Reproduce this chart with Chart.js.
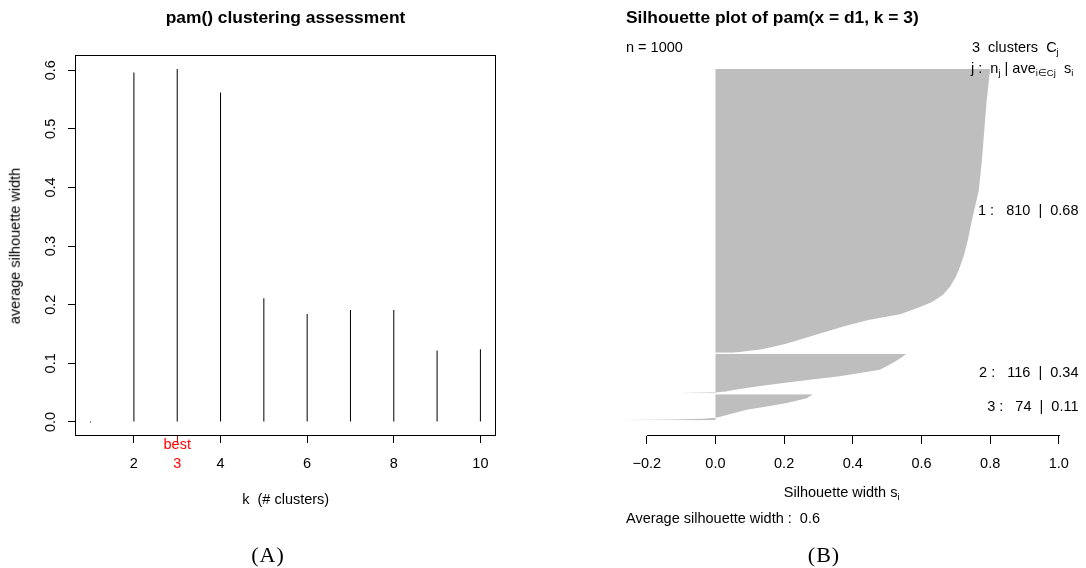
<!DOCTYPE html>
<html><head><meta charset="utf-8">
<script src="https://cdn.jsdelivr.net/npm/chart.js@4/dist/chart.umd.min.js"></script>
<style>
html,body{margin:0;padding:0;background:#fff;}
#wrap{position:relative;width:1086px;height:568px;overflow:hidden;font-family:"Liberation Sans",Arial,sans-serif;color:#000;}
.box{position:absolute;top:0;width:543px;height:568px;}
.t{position:absolute;white-space:pre;line-height:1;font-size:14.5px;}
.c{transform:translate(-50%,-50%);}
.l{transform:translate(0,-50%);}
.bold{font-weight:bold;font-size:17.4px;}
.serif{font-family:"Liberation Serif","Times New Roman",serif;font-size:22px;letter-spacing:1px;}
.rot{transform:translate(-50%,-50%) rotate(-90deg);}
sub{font-size:9.5px;vertical-align:-3px;line-height:0;}
</style></head>
<body><div id="wrap">
<div class="box" style="left:0"><canvas id="cA"></canvas></div>
<div class="box" style="left:543px"><canvas id="cB"></canvas></div>

<div class="t c bold" style="left:285.5px;top:17.8px">pam() clustering assessment</div>
<div class="t c" style="left:285.7px;top:498.5px">k  (# clusters)</div>
<div class="t rot" style="left:15px;top:245.5px">average silhouette width</div>
<div class="t c serif" style="left:268px;top:554.5px">(A)</div>

<div class="t l bold" style="left:626px;top:17.8px">Silhouette plot of pam(x = d1, k = 3)</div>
<div class="t l" style="left:626px;top:47.2px">n = 1000</div>
<div class="t l" style="left:972px;top:47px">3  clusters  C<sub>j</sub></div>
<div class="t l" style="left:971px;top:67.5px">j :  n<sub>j</sub> | ave<sub>i∈Cj</sub>  s<sub>i</sub></div>
<div class="t c" style="left:841.7px;top:491.8px">Silhouette width s<sub>i</sub></div>
<div class="t l" id="avgTxt" style="left:626px;top:518px"></div>
<div class="t c serif" style="left:824px;top:554.5px">(B)</div>
</div>
<script>
// ---------- data: panel A ----------
const kValues = [1, 2, 3, 4, 5, 6, 7, 8, 9, 10];
const avgSilWidth = [0, 0.596, 0.602, 0.562, 0.211, 0.184, 0.191, 0.191, 0.122, 0.124];
const bestK = 3;
const xTicksA = [2, 3, 4, 6, 8, 10];
const yTicksA = [0, 0.1, 0.2, 0.3, 0.4, 0.5, 0.6];

// ---------- data: panel B (silhouette widths, sorted within cluster; position = observation row) ----------
const c1Pos = [0, 89, 174, 260, 346, 431, 488, 531, 565, 594, 622, 645, 665, 682, 700, 717, 734, 751, 768, 785, 800, 810];
const c1Sil = [0.80, 0.790, 0.783, 0.776, 0.767, 0.747, 0.735, 0.724, 0.712, 0.700, 0.683, 0.662, 0.631, 0.590, 0.538, 0.445, 0.378, 0.319, 0.261, 0.203, 0.136, 0.052];
const c2Pos = [813, 830, 844, 859, 868, 878, 887, 897, 906, 916, 921, 923, 924, 925, 926];
const c2Sil = [0.557, 0.532, 0.508, 0.479, 0.421, 0.357, 0.280, 0.198, 0.125, 0.057, 0.030, 0.005, -0.02, -0.106, -0.106];
const c3Pos = [929, 940, 954, 964, 973, 983, 993, 996, 999, 1001, 1002, 1003];
const c3Sil = [0.284, 0.266, 0.208, 0.150, 0.091, 0.052, 0.014, 0.0, -0.036, -0.123, -0.26, -0.26];
const clusterIds = [1, 2, 3];
const clusterSizes = [810, 116, 74];
const clusterAvg = ['0.68', '0.34', '0.11'];
const overallAvg = '0.6';
const xTicksB = [-0.2, 0, 0.2, 0.4, 0.6, 0.8, 1.0];

Chart.defaults.font.family = '"Liberation Sans", Arial, sans-serif';
Chart.defaults.font.size = 14.5;
Chart.defaults.color = '#000';

document.getElementById('avgTxt').textContent = 'Average silhouette width :  ' + overallAvg;

const FONT = '14.5px "Liberation Sans", Arial, sans-serif';

const pluginA = {
  id: 'pA',
  afterDraw(chart) {
    const ctx = chart.ctx, ca = chart.chartArea;
    ctx.save();
    ctx.strokeStyle = '#000'; ctx.lineWidth = 1;
    const l = Math.floor(ca.left) + 0.5, r = Math.ceil(ca.right) - 0.5;
    const t = Math.floor(ca.top) + 0.5, b = Math.ceil(ca.bottom) - 0.5;
    ctx.strokeRect(l, t, r - l, b - t);
    // rotated y tick labels
    const yS = chart.scales.y;
    ctx.fillStyle = '#000'; ctx.font = FONT; ctx.textAlign = 'center'; ctx.textBaseline = 'middle';
    yTicksA.forEach(v => {
      const py = yS.getPixelForValue(v);
      ctx.save(); ctx.translate(50.5, py); ctx.rotate(-Math.PI / 2);
      ctx.fillText(v.toFixed(1), 0, 0); ctx.restore();
    });
    // "best" marker
    const xS = chart.scales.x;
    ctx.fillStyle = '#ff0000';
    ctx.fillText('best', xS.getPixelForValue(bestK), 444.8);
    ctx.restore();
  }
};

new Chart(document.getElementById('cA'), {
  type: 'bar',
  data: {
    datasets: [{
      data: kValues.map((k, i) => ({ x: k, y: avgSilWidth[i] })),
      backgroundColor: '#000', borderWidth: 0, barThickness: 1, minBarLength: 1, inflateAmount: 0
    }]
  },
  options: {
    animation: false, responsive: true, maintainAspectRatio: false, devicePixelRatio: 1,
    layout: { padding: { left: 0, top: 55, right: 47, bottom: 0 } },
    plugins: { legend: { display: false }, tooltip: { enabled: false }, title: { display: false } },
    scales: {
      x: {
        type: 'linear', min: 0.64, max: 10.36, offset: false,
        afterBuildTicks: s => { s.ticks = xTicksA.map(v => ({ value: v })); },
        afterFit: s => { s.height = 132; },
        grid: { offset: false, drawOnChartArea: false, drawTicks: true, tickLength: 7, tickWidth: 1,
                tickColor: c => (c.tick && c.tick.value === bestK) ? '#ff0000' : '#000' },
        border: { display: false },
        ticks: { autoSkip: false, maxRotation: 0, minRotation: 0, padding: 12,
                 color: c => (c.tick && c.tick.value === bestK) ? '#ff0000' : '#000',
                 callback: v => String(v) }
      },
      y: {
        type: 'linear', min: -0.024, max: 0.626,
        afterBuildTicks: s => { s.ticks = yTicksA.map(v => ({ value: v })); },
        afterFit: s => { s.width = 75; },
        grid: { drawOnChartArea: false, drawTicks: true, tickLength: 7, tickWidth: 1, tickColor: '#000' },
        border: { display: false },
        ticks: { display: false }
      }
    }
  },
  plugins: [pluginA]
});

const pluginB = {
  id: 'pB',
  afterDraw(chart) {
    const ctx = chart.ctx, xS = chart.scales.x, yS = chart.scales.y, ca = chart.chartArea;
    ctx.save();
    ctx.strokeStyle = '#000'; ctx.lineWidth = 1;
    const yb = Math.ceil(ca.bottom) - 0.5;
    ctx.beginPath();
    ctx.moveTo(Math.round(xS.getPixelForValue(xTicksB[0])), yb);
    ctx.lineTo(Math.round(xS.getPixelForValue(xTicksB[xTicksB.length - 1])) + 1, yb);
    ctx.stroke();
    // cluster statistics labels at the middle of each cluster
    const ranges = [[c1Pos[0], c1Pos[c1Pos.length - 1]], [c2Pos[0], c2Pos[c2Pos.length - 1]], [c3Pos[0], c3Pos[c3Pos.length - 1]]];
    ctx.fillStyle = '#000'; ctx.font = FONT; ctx.textAlign = 'right'; ctx.textBaseline = 'middle';
    clusterIds.forEach((id, i) => {
      const py = yS.getPixelForValue((ranges[i][0] + ranges[i][1]) / 2);
      ctx.fillText(id + ' :   ' + clusterSizes[i] + '  |  ' + clusterAvg[i], 1078.5 - 543, py);
    });
    ctx.restore();
  }
};

const mkSet = (pos, sil) => ({
  data: pos.map((p, i) => ({ x: sil[i], y: p })),
  fill: 'origin', backgroundColor: '#bebebe', borderColor: 'rgba(0,0,0,0)', borderWidth: 0,
  pointRadius: 0, tension: 0
});

new Chart(document.getElementById('cB'), {
  type: 'line',
  data: { datasets: [mkSet(c1Pos, c1Sil), mkSet(c2Pos, c2Sil), mkSet(c3Pos, c3Sil)] },
  options: {
    indexAxis: 'y',
    animation: false, responsive: true, maintainAspectRatio: false, devicePixelRatio: 1,
    layout: { padding: { left: 66, top: 55, right: 10, bottom: 0 } },
    plugins: { legend: { display: false }, tooltip: { enabled: false }, title: { display: false } },
    scales: {
      x: {
        type: 'linear', position: 'bottom', min: -0.31, max: 1.05,
        afterBuildTicks: s => { s.ticks = xTicksB.map(v => ({ value: v })); },
        afterFit: s => { s.height = 132; },
        grid: { drawOnChartArea: false, drawTicks: true, tickLength: 8, tickWidth: 1, tickColor: '#000' },
        border: { display: false },
        ticks: { autoSkip: false, maxRotation: 0, minRotation: 0, padding: 11.6,
                 callback: v => (v < 0 ? '\u2212' : '') + Math.abs(v).toFixed(1) }
      },
      y: { type: 'linear', min: -40, max: 1048, reverse: true, display: false }
    }
  },
  plugins: [pluginB]
});
</script>
</body></html>
